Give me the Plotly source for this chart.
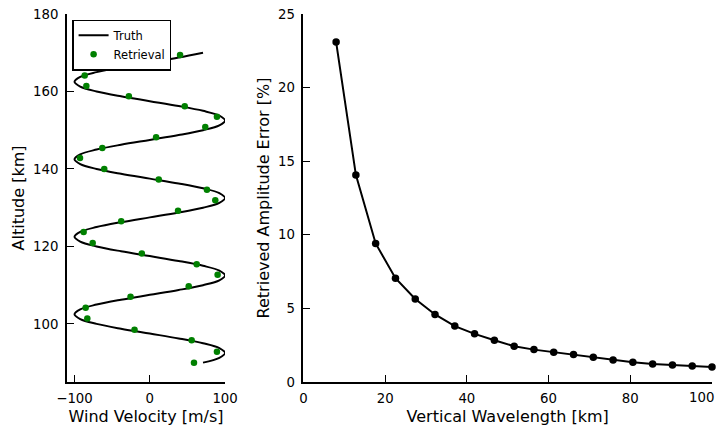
import plotly.graph_objects as go

# ---- Left panel: wind profile ----
truth_alt = [90.0, 91.25, 92.5, 93.75, 95.0, 96.25, 97.5, 98.75,
             100.0, 101.25, 102.5, 103.75, 105.0, 106.25, 107.5, 108.75,
             110.0, 111.25, 112.5, 113.75, 115.0, 116.25, 117.5, 118.75,
             120.0, 121.25, 122.5, 123.75, 125.0, 126.25, 127.5, 128.75,
             130.0, 131.25, 132.5, 133.75, 135.0, 136.25, 137.5, 138.75,
             140.0, 141.25, 142.5, 143.75, 145.0, 146.25, 147.5, 148.75,
             150.0, 151.25, 152.5, 153.75, 155.0, 156.25, 157.5, 158.75,
             160.0, 161.25, 162.5, 163.75, 165.0, 166.25, 167.5, 168.75,
             170.0]
truth_wind = [70.7, 92.4, 100, 92.4, 70.7, 38.3, 0, -38.3,
              -70.7, -92.4, -100, -92.4, -70.7, -38.3, 0, 38.3,
              70.7, 92.4, 100, 92.4, 70.7, 38.3, 0, -38.3,
              -70.7, -92.4, -100, -92.4, -70.7, -38.3, 0, 38.3,
              70.7, 92.4, 100, 92.4, 70.7, 38.3, 0, -38.3,
              -70.7, -92.4, -100, -92.4, -70.7, -38.3, 0, 38.3,
              70.7, 92.4, 100, 92.4, 70.7, 38.3, 0, -38.3,
              -70.7, -92.4, -100, -92.4, -70.7, -38.3, 0, 38.3,
              70.7]

retr_alt = [90.0, 92.8, 95.8, 98.5, 101.4, 104.2, 107.0, 109.7, 112.7, 115.4,
            118.2, 120.9, 123.7, 126.5, 129.2, 131.9, 134.6, 137.3, 140.0, 142.8,
            145.4, 148.2, 150.8, 153.5, 156.2, 158.75, 161.4, 164.1, 166.7, 169.4]
retr_wind = [58.7, 89.2, 55.6, -20.3, -83.0, -85.2, -25.6, 51.7, 90.1, 62.3,
             -10.6, -75.9, -87.9, -38.0, 37.5, 87.0, 75.9, 11.9, -60.5, -92.7,
             -63.1, 8.4, 73.7, 89.2, 46.4, -27.8, -84.3, -86.5, -33.6, 40.2]

# ---- Right panel: amplitude error vs wavelength ----
wavelength = [8.0, 12.84, 17.68, 22.53, 27.37, 32.21, 37.05, 41.89, 46.74, 51.58,
              56.42, 61.26, 66.11, 70.95, 75.79, 80.63, 85.47, 90.32, 95.16, 100.0]
amp_error = [23.1, 14.07, 9.41, 7.05, 5.64, 4.59, 3.80, 3.27, 2.84, 2.43,
             2.20, 2.02, 1.86, 1.68, 1.50, 1.34, 1.23, 1.16, 1.09, 1.02]

# tick labels
left_xticks = [-100, 0, 100]
left_yticks = [100, 120, 140, 160, 180]
right_xticks = [0, 20, 40, 60, 80, 100]
right_yticks = [0, 5, 10, 15, 20, 25]

FONT = "DejaVu Sans"
TICK = dict(size=13.3, color="black", family=FONT)
TITLE = dict(size=16, color="black", family=FONT)

fig = go.Figure()
fig.add_trace(go.Scatter(x=truth_wind, y=truth_alt, mode="lines", name="Truth",
                         line=dict(color="black", width=2, shape="spline"),
                         xaxis="x", yaxis="y", cliponaxis=False))
fig.add_trace(go.Scatter(x=retr_wind, y=retr_alt, mode="markers", name="Retrieval",
                         marker=dict(color="#008000", size=6.5),
                         xaxis="x", yaxis="y", cliponaxis=False))
fig.add_trace(go.Scatter(x=wavelength, y=amp_error, mode="lines+markers",
                         showlegend=False,
                         line=dict(color="black", width=2),
                         marker=dict(color="black", size=7.5),
                         xaxis="x2", yaxis="y2", cliponaxis=False))

# the page body adds an 8px offset; figure sized to fit window
OFF = 8
W, H = 724 - 2 * OFF, 434 - 2 * OFF
L = 67 - OFF
T = 14.3 - OFF
R = W - (711.7 - OFF)
B = H - (382 - OFF)
pw = W - L - R
ph = H - T - B
d1 = (225 - 67) / pw
d2 = (303.3 - 67) / pw

common = dict(showgrid=False, zeroline=False, showline=True, linecolor="black",
              linewidth=1.8, ticks="inside", ticklen=7, tickwidth=1.3,
              tickcolor="black", tickfont=TICK, mirror=False, automargin=False,
              ticklabeloverflow="allow")

# last x label of the right panel sits at the page edge: draw it right-aligned
rx_text = [str(v) for v in right_xticks]
last_label = rx_text[-1]
rx_text[-1] = ""

fig.update_layout(
    width=W, height=H,
    margin=dict(l=L, r=R, t=T, b=B, autoexpand=False),
    paper_bgcolor="white", plot_bgcolor="white",
    font=dict(family=FONT, color="black"),
    xaxis=dict(domain=[0, d1], range=[-110, 100], tickvals=left_xticks,
               title=dict(text="Wind Velocity [m/s]", font=TITLE, standoff=6),
               anchor="y", ticklabelstandoff=3, **common),
    yaxis=dict(domain=[0, 1], range=[85, 180], tickvals=left_yticks,
               title=dict(text="Altitude [km]", font=TITLE, standoff=4),
               anchor="x", ticklabelstandoff=4, **common),
    xaxis2=dict(domain=[d2, 1], range=[0, 100], tickvals=right_xticks,
                ticktext=rx_text,
                title=dict(text="Vertical Wavelength [km]", font=TITLE, standoff=6),
                anchor="y2", ticklabelstandoff=3, **common),
    yaxis2=dict(domain=[0, 1], range=[0, 25], tickvals=right_yticks,
                title=dict(text="Retrieved Amplitude Error [%]", font=TITLE, standoff=4),
                anchor="x2", ticklabelstandoff=4, **common),
    legend=dict(x=0.0082, y=0.985, xanchor="left", yanchor="top",
                bgcolor="white", bordercolor="black", borderwidth=1.3,
                font=dict(size=11.5, color="black", family=FONT),
                itemwidth=30, tracegroupgap=0),
    showlegend=True,
    annotations=[dict(x=right_xticks[-1], xref="x2", y=-15.5 / ph, yref="paper",
                      text=last_label, showarrow=False, xanchor="right",
                      yanchor="middle", xshift=4, font=TICK)],
)

fig.write_html("out.html")
